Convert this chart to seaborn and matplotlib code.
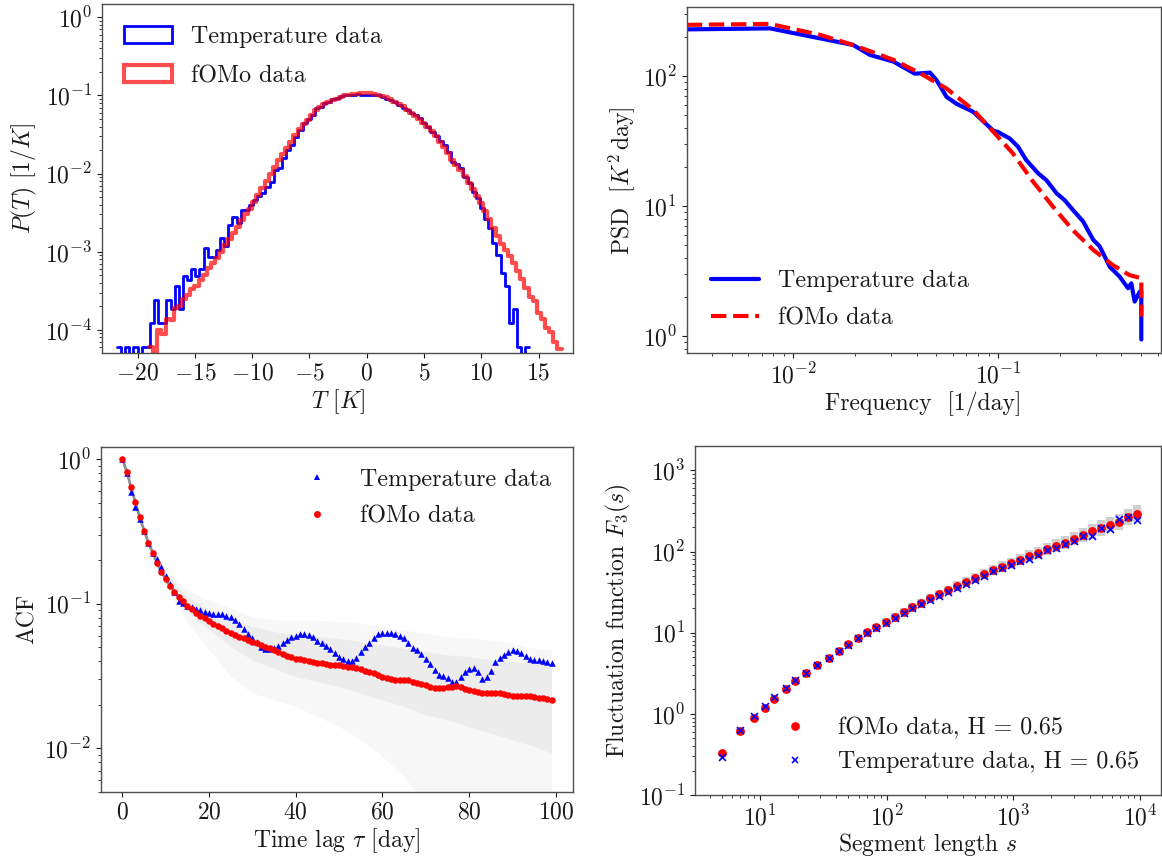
import matplotlib
matplotlib.use("Agg")
import numpy as np
import pandas as pd
import seaborn as sns
import matplotlib.pyplot as plt
from matplotlib.patches import Patch
from matplotlib.lines import Line2D

# ---------------- data ----------------
# Panel (a): histograms of temperature anomaly, density per bin
temp_bin_range = (-21.8, 14.2)
temp_pdf = [6.1e-5, 0, 6.1e-5, 0, 6.1e-5, 0, 6.1e-5, 6.1e-5, 1.22e-4, 2.43e-4,
            1.22e-4, 1.22e-4, 2.43e-4, 1.83e-4, 3.66e-4, 1.83e-4, 4.9e-4, 4.3e-4, 6.1e-4, 4.9e-4,
            6.1e-4, 1.1e-3, 8.5e-4, 8.5e-4, 1.06e-3, 1.49e-3, 1.17e-3, 2.2e-3, 2.8e-3, 2.3e-3,
            3.4e-3, 3.4e-3, 4.0e-3, 4.6e-3, 5.1e-3, 5.6e-3, 6.8e-3, 7.9e-3, 1.12e-2, 1.17e-2,
            1.58e-2, 2.0e-2, 0.0234, 0.0295, 0.0363, 0.0447, 0.050, 0.056, 0.069, 0.072,
            0.079, 0.083, 0.089, 0.093, 0.098, 0.100, 0.102, 0.102, 0.103, 0.101,
            0.102, 0.101, 0.102, 0.100, 0.097, 0.089, 0.087, 0.083, 0.076, 0.069,
            0.065, 0.060, 0.056, 0.052, 0.045, 0.040, 0.034, 0.030, 0.026, 0.0234,
            0.019, 0.0141, 0.0132, 0.0117, 0.0091, 0.0076, 0.0059, 0.0049, 0.0036, 0.0026,
            0.0020, 0.0013, 0.00091, 0.00054, 0.00036, 1.22e-4, 1.83e-4, 6.1e-5, 0, 6.1e-5]
fomo_bin_range = (-19.0, 17.0)
fomo_log10_pdf = [-4.22, -4.30, -4.00, -4.05, -3.86, -3.88, -3.72, -3.70, -3.61, -3.56,
                  -3.48, -3.44, -3.36, -3.30, -3.21, -3.14, -3.08, -3.00, -2.92, -2.84,
                  -2.76, -2.68, -2.60, -2.52, -2.45, -2.36, -2.27, -2.18, -2.09, -2.00,
                  -1.91, -1.83, -1.75, -1.67, -1.59, -1.51, -1.43, -1.37, -1.31, -1.25,
                  -1.19, -1.15, -1.11, -1.08, -1.06, -1.04, -1.02, -1.00, -0.99, -0.985,
                  -0.978, -0.974, -0.972, -0.973, -0.978, -0.990, -1.005, -1.025, -1.05, -1.08,
                  -1.11, -1.14, -1.18, -1.22, -1.26, -1.30, -1.35, -1.40, -1.46, -1.52,
                  -1.59, -1.66, -1.74, -1.82, -1.89, -1.96, -2.03, -2.12, -2.20, -2.29,
                  -2.38, -2.48, -2.58, -2.69, -2.80, -2.90, -2.98, -3.06, -3.15, -3.25,
                  -3.35, -3.46, -3.58, -3.63, -3.79, -3.86, -3.97, -4.03, -4.16, -4.24]

# Panel (b): power spectral density
temp_freq = [0.00302, 0.0077, 0.0196, 0.0237, 0.0308, 0.0392, 0.0465, 0.0500, 0.056, 0.0627,
             0.0755, 0.0946, 0.100, 0.114, 0.125, 0.137, 0.157, 0.172, 0.193, 0.211,
             0.232, 0.260, 0.291, 0.313, 0.351, 0.392, 0.431, 0.447, 0.464, 0.491, 0.500, 0.500]
temp_psd = [228, 232, 173, 145, 129, 104, 106, 93, 69, 61,
            53, 38, 37, 33, 28.6, 22.6, 17.8, 15.8, 12.5, 11.1,
            9.3, 7.6, 5.5, 4.9, 3.4, 2.86, 2.33, 2.54, 1.84, 2.19, 2.2, 0.94]
fomo_freq = [0.00302, 0.0077, 0.0135, 0.0196, 0.0308, 0.0415, 0.056, 0.0755, 0.0946,
             0.118, 0.148, 0.185, 0.232, 0.291, 0.364, 0.438, 0.500, 0.500]
fomo_psd = [247, 251, 207, 173, 133, 105, 80, 55, 37.3,
            25.4, 15.4, 9.9, 6.5, 4.6, 3.5, 2.94, 2.78, 1.41]

# Panel (c): autocorrelation function, lags 0..99 days
lags = list(range(100))
acf_temp = [1.0, 0.796, 0.594, 0.463, 0.383, 0.318, 0.264, 0.225, 0.202, 0.180,
            0.155, 0.137, 0.121, 0.105, 0.1005, 0.0969, 0.0953, 0.0918, 0.0904, 0.0880,
            0.0858, 0.0849, 0.0844, 0.0844, 0.0822, 0.0805, 0.0771, 0.0723, 0.0665, 0.0617,
            0.0576, 0.0540, 0.0504, 0.0483, 0.0483, 0.0491, 0.0510, 0.0532, 0.0561, 0.0585,
            0.0601, 0.0614, 0.0617, 0.0607, 0.0585, 0.0555, 0.0532, 0.0510, 0.0486, 0.0458,
            0.0430, 0.0412, 0.0402, 0.0404, 0.0423, 0.0466, 0.0499, 0.0532, 0.0576, 0.0614,
            0.0624, 0.0627, 0.0624, 0.0617, 0.0601, 0.0576, 0.0532, 0.0491, 0.0478, 0.0449,
            0.0412, 0.0381, 0.0348, 0.0321, 0.0316, 0.0305, 0.0289, 0.0286, 0.0313, 0.0335,
            0.0353, 0.0359, 0.0334, 0.0300, 0.0313, 0.0344, 0.0397, 0.0419, 0.0442, 0.0463,
            0.0478, 0.0473, 0.0454, 0.0435, 0.0412, 0.0408, 0.0406, 0.0402, 0.0393, 0.0389]
acf_fomo = [1.0, 0.817, 0.637, 0.501, 0.395, 0.320, 0.264, 0.223, 0.190, 0.166,
            0.147, 0.132, 0.121, 0.112, 0.104, 0.0969, 0.0914, 0.0867, 0.0826, 0.0792,
            0.0759, 0.0728, 0.0701, 0.0676, 0.0651, 0.0627, 0.0607, 0.0591, 0.0576, 0.0561,
            0.0546, 0.0532, 0.0518, 0.0504, 0.0491, 0.0478, 0.0463, 0.0449, 0.0437, 0.0426,
            0.0417, 0.0412, 0.0408, 0.0404, 0.0397, 0.0391, 0.0387, 0.0383, 0.0379, 0.0377,
            0.0375, 0.0371, 0.0367, 0.0363, 0.0359, 0.0352, 0.0344, 0.0337, 0.0330, 0.0321,
            0.0313, 0.0305, 0.0300, 0.0298, 0.0297, 0.0295, 0.0294, 0.0289, 0.0284, 0.0278,
            0.0273, 0.0267, 0.0261, 0.0260, 0.0261, 0.0264, 0.0267, 0.0268, 0.0264, 0.0258,
            0.0253, 0.0248, 0.0244, 0.0241, 0.0240, 0.0240, 0.0241, 0.0240, 0.0237, 0.0234,
            0.0231, 0.0231, 0.0230, 0.0229, 0.0228, 0.0226, 0.0224, 0.0222, 0.0218, 0.0215]
# spread of the fOMo ensemble realisations (read every 5 days)
ens_lags = [0, 5, 10, 15, 20, 25, 30, 35, 40, 45, 50, 55, 60, 65, 70, 75, 80, 85, 90, 95, 99]
ens_outer_hi = [1.0, 0.323, 0.171, 0.124, 0.106, 0.0929, 0.0813, 0.0771, 0.0771, 0.0771, 0.0751,
                0.0731, 0.0693, 0.0658, 0.0624, 0.0591, 0.0576, 0.0561, 0.0532, 0.0491, 0.0478]
ens_outer_lo = [1.0, 0.306, 0.131, 0.0731, 0.0478, 0.0313, 0.0240, 0.0216, 0.0194, 0.0166, 0.0141,
                0.0114, 0.00875, 0.00637, 0.004, 0.004, 0.004, 0.004, 0.004, 0.004, 0.004]
ens_core_hi = [1.0, 0.323, 0.162, 0.112, 0.0904, 0.0792, 0.0693, 0.0640, 0.0607, 0.0591, 0.0576,
               0.0546, 0.0518, 0.0491, 0.0466, 0.0442, 0.0430, 0.0408, 0.0397, 0.0387, 0.0377]
ens_core_lo = [1.0, 0.315, 0.142, 0.0880, 0.0658, 0.0504, 0.0408, 0.0357, 0.0313, 0.0289, 0.0267,
               0.0240, 0.0216, 0.0194, 0.0170, 0.0157, 0.0141, 0.0127, 0.0114, 0.0103, 0.00923]

# Panel (d): DFA fluctuation function
seg_len = [5, 7, 9, 11, 13, 16, 19, 23, 28, 35, 42, 50, 59, 70, 83,
           98, 116, 136, 160, 188, 222, 261, 307, 362, 426, 501, 590, 695, 818, 962,
           1132, 1333, 1569, 1847, 2174, 2559, 3012, 3545, 4173, 4912, 5781, 6805, 8011, 9428]
fluct_fomo = [0.327, 0.615, 0.90, 1.19, 1.51, 2.01, 2.55, 3.16, 4.0, 4.94, 6.0, 7.2, 8.55, 10.1, 11.9,
              13.7, 15.8, 18.1, 20.6, 23.5, 26.6, 30.1, 33.7, 37.8, 42.3, 47.0, 52.6, 58.5, 64.9, 71.3,
              79.1, 86.9, 95.5, 107, 118, 129, 144, 159, 177, 194, 214, 229, 266, 292]
fluct_temp = [0.297, 0.634, 0.95, 1.25, 1.60, 2.07, 2.62, 3.23, 4.0, 4.9, 6.0, 7.08, 8.5, 9.96, 11.5,
              13.3, 15.1, 17.4, 19.9, 22.7, 25.4, 28.7, 31.3, 35.7, 40.0, 44.9, 50.2, 56.8, 61.8, 68.7,
              75.5, 81.4, 91.2, 103, 110, 125, 136, 154, 156, 193, 189, 251, 266, 247]
fluct_ens_hi = [0.35, 0.66, 0.96, 1.27, 1.61, 2.14, 2.72, 3.37, 4.27, 5.27, 6.42, 7.72, 9.2, 10.9, 12.9,
                15.0, 17.4, 20.0, 22.9, 26.2, 29.8, 33.9, 38.1, 43.0, 48.3, 54.0, 60.7, 67.8, 75.7, 83.7,
                93.3, 103, 114, 128, 142, 157, 176, 196, 219, 242, 269, 290, 335, 370]
fluct_ens_lo = [0.31, 0.58, 0.85, 1.12, 1.42, 1.89, 2.39, 2.96, 3.74, 4.61, 5.58, 6.68, 7.9, 9.3, 10.9,
                12.5, 14.4, 16.4, 18.6, 21.1, 23.8, 26.8, 29.9, 33.4, 37.2, 41.1, 45.8, 50.7, 55.9, 61.1,
                67.4, 73.6, 80.4, 89.6, 98.3, 107, 119, 130, 144, 157, 172, 183, 211, 230]

# ---------------- style ----------------
sns.set_style("ticks")
plt.rcParams.update({
    "font.family": ["cmr10", "DejaVu Serif"],
    "mathtext.fontset": "cm",
    "axes.unicode_minus": False,
    "axes.formatter.use_mathtext": True,
    "axes.edgecolor": "0.3",
    "axes.linewidth": 1.0,
    "xtick.color": "0.1",
    "ytick.color": "0.1",
    "text.color": "0.1",
    "axes.labelcolor": "0.1",
    "xtick.labelsize": 17,
    "ytick.labelsize": 17,
    "axes.labelsize": 17,
    "legend.fontsize": 17.3,
    "legend.labelspacing": 0.62,
    "xtick.major.size": 3.5,
    "ytick.major.size": 3.5,
    "xtick.minor.size": 2,
    "ytick.minor.size": 2,
})

fig = plt.figure(figsize=(11.62, 8.59), dpi=100)
ax1 = fig.add_axes([0.0878, 0.5894, 0.4053, 0.4059])
ax2 = fig.add_axes([0.5910, 0.5887, 0.4079, 0.4028])
ax3 = fig.add_axes([0.0869, 0.0783, 0.4062, 0.4016])
ax4 = fig.add_axes([0.5981, 0.0745, 0.4010, 0.4063])

# ---- (a) histograms ----
temp_edges = np.linspace(*temp_bin_range, len(temp_pdf) + 1).tolist()
fomo_edges = np.linspace(*fomo_bin_range, len(fomo_log10_pdf) + 1).tolist()
temp_centres = [(a + b) / 2 for a, b in zip(temp_edges[:-1], temp_edges[1:])]
fomo_centres = [(a + b) / 2 for a, b in zip(fomo_edges[:-1], fomo_edges[1:])]
df_t = pd.DataFrame({"T": temp_centres, "w": temp_pdf})
df_f = pd.DataFrame({"T": fomo_centres, "w": np.power(10.0, fomo_log10_pdf)})
sns.histplot(data=df_t, x="T", weights="w", bins=temp_edges, element="step", fill=False,
             color="blue", linewidth=2, ax=ax1)
sns.histplot(data=df_f, x="T", weights="w", bins=fomo_edges, element="step", fill=False,
             color="red", alpha=0.7, linewidth=3, ax=ax1)
ax1.set_yscale("log")
ax1.set_xlim(-23.1, 18.0)
ax1.set_ylim(5.1e-5, 1.48)
ax1.set_xticks([-20, -15, -10, -5, 0, 5, 10, 15])
ax1.set_yticks([1e0, 1e-1, 1e-2, 1e-3, 1e-4])
ax1.set_xlabel(r"$T$ $[K]$", labelpad=2)
ax1.set_ylabel(r"$P(T)$ $[1/K]$")
h1 = [Patch(facecolor="none", edgecolor="blue", linewidth=2),
      Patch(facecolor="none", edgecolor="red", alpha=0.7, linewidth=3)]
ax1.legend(h1, ["Temperature data", "fOMo data"], loc="upper left", frameon=False,
           handlelength=2.0, handleheight=0.7, labelspacing=0.72)

# ---- (b) PSD ----
sns.lineplot(x=temp_freq, y=temp_psd, ax=ax2, color="blue", linewidth=3,
             estimator=None, sort=False, label="Temperature data")
sns.lineplot(x=fomo_freq, y=fomo_psd, ax=ax2, color="red", linewidth=3, linestyle="--",
             estimator=None, sort=False, label="fOMo data")
ax2.set_xscale("log")
ax2.set_yscale("log")
ax2.set_xlim(0.00302, 0.622)
ax2.set_ylim(0.736, 337)
ax2.set_xlabel("Frequency  [1/day]", labelpad=2)
ax2.set_ylabel(r"PSD  $[K^2\,\mathrm{day}]$")
ax2.legend(loc="lower left", frameon=False, borderaxespad=0.6)

# ---- (c) ACF ----
ax3.fill_between(ens_lags, ens_outer_lo, ens_outer_hi, color="0.5", alpha=0.06, linewidth=0)
ax3.fill_between(ens_lags, ens_core_lo, ens_core_hi, color="0.5", alpha=0.09, linewidth=0)
sns.lineplot(x=lags, y=acf_fomo, ax=ax3, color="0.45", linewidth=2, alpha=0.8,
             estimator=None, sort=False)
sns.scatterplot(x=lags, y=acf_temp, ax=ax3, marker="^", color="blue", s=22,
                linewidth=0, zorder=3)
sns.scatterplot(x=lags, y=acf_fomo, ax=ax3, marker="o", color="red", s=22,
                linewidth=0, zorder=4)
ax3.set_yscale("log")
ax3.set_xlim(-4.95, 103.95)
ax3.set_ylim(0.005, 1.216)
ax3.set_xticks([0, 20, 40, 60, 80, 100])
ax3.set_xlabel(r"Time lag $\tau$ [day]", labelpad=2)
ax3.set_ylabel("ACF")
h3 = [Line2D([], [], ls="none", marker="^", color="blue", markersize=5, markeredgewidth=0),
      Line2D([], [], ls="none", marker="o", color="red", markersize=5, markeredgewidth=0)]
ax3.legend(h3, ["Temperature data", "fOMo data"], loc="upper right", frameon=False)

# ---- (d) fluctuation function ----
ax4.set_xscale("log")
ax4.set_yscale("log")
ax4.vlines(seg_len, fluct_ens_lo, fluct_ens_hi, color="0.45", alpha=0.35, linewidth=6)
sns.scatterplot(x=seg_len, y=fluct_fomo, ax=ax4, marker="o", color="red", s=40,
                linewidth=0, zorder=3)
sns.scatterplot(x=seg_len, y=fluct_temp, ax=ax4, marker="x", color="blue", s=25,
                linewidth=1.2, zorder=4)
ax4.set_xlim(3.07, 14650)
ax4.set_ylim(0.1, 1995)
ax4.set_yticks([1e-1, 1e0, 1e1, 1e2, 1e3])
ax4.set_xlabel(r"Segment length $s$", labelpad=1)
ax4.set_ylabel(r"Fluctuation function $F_3(s)$")
h4 = [Line2D([], [], ls="none", marker="o", color="red", markersize=6.3, markeredgewidth=0),
      Line2D([], [], ls="none", marker="x", color="blue", markersize=5, markeredgewidth=1.2)]
ax4.legend(h4, ["fOMo data, H = 0.65", "Temperature data, H = 0.65"], loc="lower right",
           frameon=False, labelspacing=0.5)

fig.savefig("out.png", dpi=100)
